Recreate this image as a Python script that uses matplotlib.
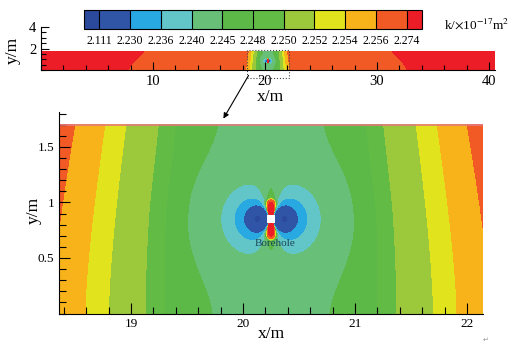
import numpy as np
import matplotlib.pyplot as plt
from matplotlib.colors import ListedColormap, BoundaryNorm
from matplotlib.patches import Rectangle
from matplotlib.ticker import MultipleLocator, FixedLocator, FuncFormatter

plt.rcParams['font.family'] = ['Liberation Serif', 'DejaVu Sans']
plt.rcParams['mathtext.fontset'] = 'stix'

# colour levels of the legend (k, x1e-17 m^2)
levels = [2.111, 2.230, 2.236, 2.240, 2.245, 2.248, 2.250, 2.252, 2.254, 2.256, 2.274]
colors = ['#2b4a9c', '#3155a6', '#29a9e1', '#62c5c8', '#68bf78', '#5cb948',
          '#62bb45', '#9cc83c', '#e1e31c', '#f8b31b', '#f15a24', '#ec1d26']

# model domain and borehole
x_len, y_len = 40.5, 1.7
bh_x, bh_y, bh_half = 20.25, 0.85, 0.037

# far field: horizontal distance from borehole (m) -> k
far_d = [0.0, 0.5, 0.95, 1.12, 1.45, 1.66, 1.96, 12.4, 20.3]
far_k = [2.2425, 2.245, 2.248, 2.250, 2.252, 2.254, 2.256, 2.274, 2.280]
# side lobes left/right of borehole: distance from lobe centre -> drop of k
lobe_r = [0.0, 0.03, 0.125, 0.21, 0.33, 0.63, 1.0, 2.0]
lobe_dk = [0.2, 0.133, 0.0137, 0.0082, 0.0048, 0.0018, 0.0001, 1e-6]
# caps above/below borehole: distance -> rise of k
cap_r = [0.04, 0.155, 0.19, 0.28, 0.5, 1.0]
cap_dk = [0.3, 0.0315, 0.0075, 0.0025, 0.0002, 1e-6]

xs = np.unique(np.concatenate([np.linspace(0, x_len, 900), np.linspace(18.2, 22.3, 1400)]))
ys = np.linspace(0, y_len, 600)
X, Y = np.meshgrid(xs, ys)
dx = X - bh_x
dy = Y - bh_y
r = np.maximum(np.hypot(dx, dy), 1e-9)
d_eff = np.abs(dx) * (1 + 0.12 * (Y / y_len) ** 1.5)
K = np.interp(d_eff, far_d, far_k)
rho = np.hypot(np.abs(dx) - 0.12, dy / 1.1)
K -= np.exp(np.interp(rho, lobe_r, np.log(lobe_dk))) * (np.abs(dx) / r) ** 0.7
K += np.exp(np.interp(r, cap_r, np.log(cap_dk))) * (np.abs(dy) / r) ** 30

cmap = ListedColormap(colors)
norm = BoundaryNorm(levels, cmap.N, extend='both')

fig = plt.figure(figsize=(5.15, 3.45), dpi=100)
W, H = 515, 345

def box(l, t, w, h):
    return [l / W, 1 - (t + h) / H, w / W, h / H]

# ---- top: whole model
ax1 = fig.add_axes(box(41, 27, 453.6, 43))
cs = ax1.contourf(X, Y, K, levels=levels, cmap=cmap, norm=norm, extend='both')
ax1.set_xlim(0, x_len)
ax1.set_ylim(0, 4)
ax1.spines[['top', 'right']].set_visible(False)
ax1.xaxis.set_major_locator(FixedLocator([10, 20, 30, 40]))
ax1.xaxis.set_minor_locator(MultipleLocator(2))
ax1.yaxis.set_major_locator(FixedLocator([2, 4]))
ax1.yaxis.set_minor_locator(MultipleLocator(0.5))
ax1.tick_params(which='both', direction='in', labelsize=10.5, width=0.8)
ax1.tick_params(which='major', length=6)
ax1.tick_params(which='minor', length=3.5)
ax1.add_patch(Rectangle((18.36, -0.74), 3.78, 2.6, fill=False, ls=':', lw=0.8,
                        ec='#444444', clip_on=False))
fig.text(270 / W, 1 - 97 / H, 'x/m', ha='center', va='center', fontsize=12.5)
fig.text(13 / W, 1 - 50 / H, 'y/m', ha='center', va='center', fontsize=12.5, rotation=90)

# ---- legend
cax = fig.add_axes(box(84, 10, 338, 19))
cb = fig.colorbar(cs, cax=cax, orientation='horizontal', extend='both', extendrect=True,
                  extendfrac=0.05, drawedges=True, ticks=levels, spacing='uniform')
cb.ax.set_xticklabels(['%.3f' % v for v in levels])
cb.ax.tick_params(length=0, labelsize=8.5, pad=4)
cb.outline.set_linewidth(0.8)
cb.dividers.set_linewidth(0.8)
fig.text(444 / W, 1 - 24 / H, r'k/$\times$10$^{-17}$m$^2$', ha='left', va='center', fontsize=9.5)

# ---- bottom: zoom on borehole
ax2 = fig.add_axes(box(59.3, 112, 423.4, 201.5))
ax2.contourf(X, Y, K, levels=levels, cmap=cmap, norm=norm, extend='both')
ax2.add_patch(Rectangle((bh_x - bh_half, bh_y - bh_half), 2 * bh_half, 2 * bh_half,
                        fc='white', ec='none'))
ax2.axhline(y_len, color='#e57a7c', lw=1.2)
ax2.set_xlim(bh_x - 1.89, bh_x + 1.89)
ax2.set_ylim(0, 1.815)
ax2.spines[['top', 'right']].set_visible(False)
ax2.xaxis.set_major_locator(FixedLocator([19, 20, 21, 22]))
ax2.xaxis.set_minor_locator(MultipleLocator(0.2))
ax2.yaxis.set_major_locator(FixedLocator([0.5, 1, 1.5]))
ax2.yaxis.set_minor_locator(MultipleLocator(0.1))
ax2.yaxis.set_major_formatter(FuncFormatter(lambda v, p: '%g' % v))
ax2.tick_params(which='both', direction='in', labelsize=9.5, width=0.8)
ax2.tick_params(which='major', length=8)
ax2.tick_params(which='minor', length=5)
ax2.text(20.29, 0.63, 'Borehole', ha='center', va='center', fontsize=8, color='#1b4756')
fig.text(271 / W, 1 - 334 / H, 'x/m', ha='center', va='center', fontsize=12.5)
fig.text(34 / W, 1 - 210 / H, 'y/m', ha='center', va='center', fontsize=12.5, rotation=90)
fig.text(486 / W, 1 - 340 / H, '\u21b5', ha='center', va='center', fontsize=5,
         color='#999999', family='DejaVu Sans')

ax2.annotate('', xy=(222 / W, 1 - 121 / H), xytext=(250 / W, 1 - 73 / H),
             xycoords='figure fraction', textcoords='figure fraction',
             arrowprops=dict(arrowstyle='-|>', color='k', lw=0.8, mutation_scale=8))

fig.savefig('out.png', dpi=100)
